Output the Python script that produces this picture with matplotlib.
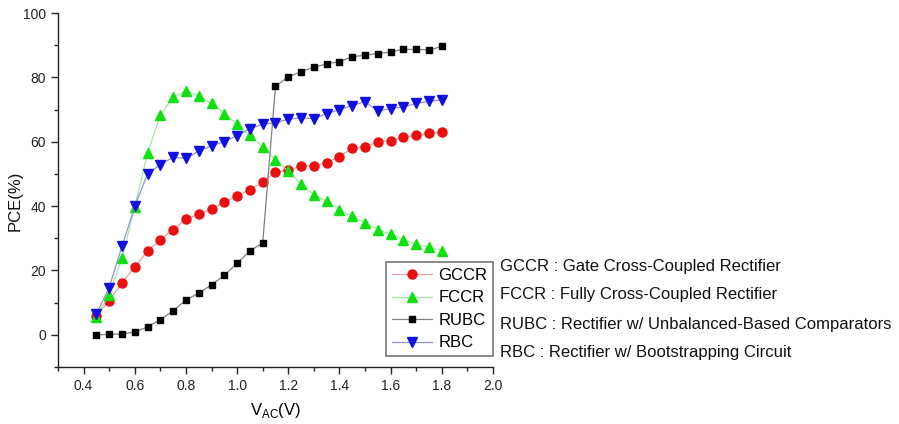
import matplotlib
matplotlib.use("Agg")
import matplotlib.pyplot as plt
import numpy as np

plt.rcParams['font.family'] = ['Liberation Sans', 'DejaVu Sans']

vac = [0.45, 0.50, 0.55, 0.60, 0.65, 0.70, 0.75, 0.80, 0.85, 0.90, 0.95, 1.00, 1.05, 1.10,
       1.15, 1.20, 1.25, 1.30, 1.35, 1.40, 1.45, 1.50, 1.55, 1.60, 1.65, 1.70, 1.75, 1.80]

gccr = [6.0, 10.6, 16.1, 21.1, 26.1, 29.5, 32.7, 35.9, 37.5, 39.0, 41.3, 43.2, 45.1, 47.4,
        50.6, 51.1, 52.5, 52.5, 53.5, 55.4, 58.0, 58.3, 60.0, 60.3, 61.4, 62.1, 62.6, 63.0]
fccr = [5.6, 12.5, 23.8, 39.7, 56.5, 68.2, 73.9, 75.8, 74.2, 71.9, 68.7, 65.4, 62.0, 58.3,
        54.4, 50.8, 46.9, 43.5, 41.5, 38.7, 36.8, 34.7, 32.7, 31.2, 29.6, 28.1, 27.2, 26.2]
rubc = [0.0, 0.1, 0.3, 0.8, 2.5, 4.7, 7.5, 10.8, 13.0, 15.5, 18.5, 22.2, 26.1, 28.5,
        77.3, 80.1, 81.8, 83.1, 84.2, 84.9, 86.4, 86.9, 87.4, 87.9, 88.7, 88.7, 88.5, 89.6]
rbc = [6.4, 14.7, 27.5, 39.9, 50.0, 52.9, 55.2, 54.8, 57.1, 58.7, 60.0, 61.9, 64.1, 65.4,
       65.9, 67.0, 67.4, 67.2, 68.7, 70.0, 71.2, 72.5, 69.5, 70.3, 70.8, 71.9, 72.6, 73.0]

labels = ["GCCR", "FCCR", "RUBC", "RBC"]
descriptions = ["GCCR : Gate Cross-Coupled Rectifier",
                "FCCR : Fully Cross-Coupled Rectifier",
                "RUBC : Rectifier w/ Unbalanced-Based Comparators",
                "RBC : Rectifier w/ Bootstrapping Circuit"]
xticks = [0.4, 0.6, 0.8, 1.0, 1.2, 1.4, 1.6, 1.8, 2.0]
yticks = [0, 20, 40, 60, 80, 100]

W, H = 899, 424
fig = plt.figure(figsize=(W / 100, H / 100), dpi=100)
ax = fig.add_axes([58 / W, 1 - 367 / H, (493 - 58) / W, (367 - 13) / H])

styles = [
    dict(color='#e8a0a0', marker='o', mfc='#e81010', mec='#e81010', ms=6.5),
    dict(color='#a0e8a0', marker='^', mfc='#10e010', mec='#10e010', ms=7),
    dict(color='#808080', marker='s', mfc='black', mec='black', ms=5),
    dict(color='#9090d8', marker='v', mfc='#1010e0', mec='#1010e0', ms=7),
]
for ys, lab, st in zip([gccr, fccr, rubc, rbc], labels, styles):
    ax.plot(vac, ys, lw=0.9, label=lab, **st)

ax.set_xlim(0.3, 2.0)
ax.set_ylim(-10, 100)
ax.set_xticks(xticks)
ax.set_xticklabels([f"{v:.1f}" for v in xticks])
ax.set_xticks(np.arange(0.3, 2.01, 0.1), minor=True)
ax.set_yticks(yticks)
ax.set_yticks(np.arange(-10, 101, 10), minor=True)
for s in ['top', 'right']:
    ax.spines[s].set_visible(False)
for s in ['left', 'bottom']:
    ax.spines[s].set_linewidth(1.0)
    ax.spines[s].set_color('#222222')
ax.tick_params(which='major', direction='out', length=5, width=1, labelsize=10, colors='#222222')
ax.tick_params(which='minor', direction='out', length=3, width=1, colors='#222222')

ax.set_xlabel(r"V$_{\mathregular{AC}}$(V)", fontsize=12, labelpad=6)
fig.text(15 / W, 1 - 201 / H, "PCE(%)", fontsize=12, rotation=90, va='center', ha='center', color='#111111')

leg = fig.legend(loc='upper left', bbox_to_anchor=(386 / W, 1 - 262 / H), fontsize=12,
                 frameon=True, fancybox=False, borderaxespad=0, handlelength=2.4,
                 labelspacing=0.45, borderpad=0.35, handletextpad=0.4)
leg.get_frame().set_edgecolor('#555555')
leg.get_frame().set_linewidth(1.2)

for i, d in enumerate(descriptions):
    fig.text(500 / W, 1 - (266 + i * 29) / H, d, fontsize=12, va='center', ha='left', color='#111111')

fig.savefig("out.png", dpi=100)
